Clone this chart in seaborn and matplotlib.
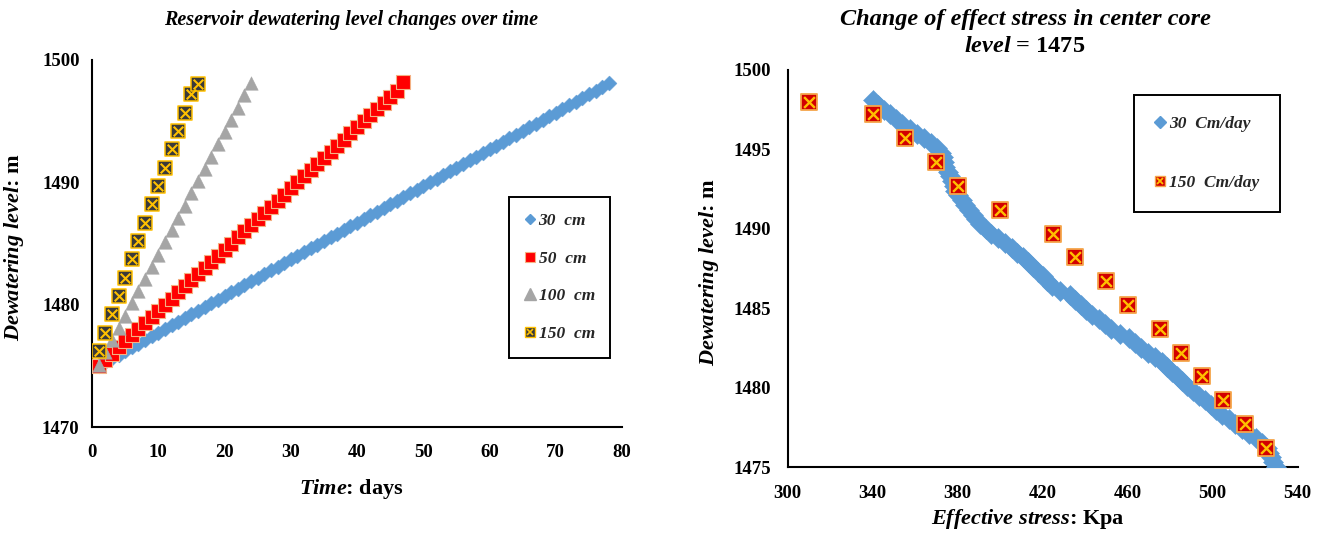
import matplotlib
matplotlib.use("Agg")
import matplotlib.pyplot as plt
from matplotlib.lines import Line2D
from matplotlib.legend_handler import HandlerTuple
from matplotlib.font_manager import FontProperties
import pandas as pd
import seaborn as sns

# ---------------- data ----------------
# Left panel: dewatering level (m) versus time (days) for four drawdown rates
days_30 = [1, 2, 3, 4, 5, 6, 7, 8, 9, 10, 11, 12, 13, 14, 15, 16, 17, 18, 19, 20,
           21, 22, 23, 24, 25, 26, 27, 28, 29, 30, 31, 32, 33, 34, 35, 36, 37, 38, 39, 40,
           41, 42, 43, 44, 45, 46, 47, 48, 49, 50, 51, 52, 53, 54, 55, 56, 57, 58, 59, 60,
           61, 62, 63, 64, 65, 66, 67, 68, 69, 70, 71, 72, 73, 74, 75, 76, 77, 78]
level_30 = [1475.0, 1475.3, 1475.6, 1475.9, 1476.2, 1476.5, 1476.8, 1477.1, 1477.4, 1477.7,
            1478.0, 1478.3, 1478.6, 1478.9, 1479.2, 1479.5, 1479.8, 1480.1, 1480.4, 1480.7,
            1481.0, 1481.3, 1481.6, 1481.9, 1482.2, 1482.5, 1482.8, 1483.1, 1483.4, 1483.7,
            1484.0, 1484.3, 1484.6, 1484.9, 1485.2, 1485.5, 1485.8, 1486.1, 1486.4, 1486.7,
            1487.0, 1487.3, 1487.6, 1487.9, 1488.2, 1488.5, 1488.8, 1489.1, 1489.4, 1489.7,
            1490.0, 1490.3, 1490.6, 1490.9, 1491.2, 1491.5, 1491.8, 1492.1, 1492.4, 1492.7,
            1493.0, 1493.3, 1493.6, 1493.9, 1494.2, 1494.5, 1494.8, 1495.1, 1495.4, 1495.7,
            1496.0, 1496.3, 1496.6, 1496.9, 1497.2, 1497.5, 1497.8, 1498.1]

days_50 = [1, 2, 3, 4, 5, 6, 7, 8, 9, 10, 11, 12, 13, 14, 15, 16, 17, 18, 19, 20,
           21, 22, 23, 24, 25, 26, 27, 28, 29, 30, 31, 32, 33, 34, 35, 36, 37, 38, 39, 40,
           41, 42, 43, 44, 45, 46, 47]
level_50 = [1475.0, 1475.5, 1476.0, 1476.5, 1477.0, 1477.5, 1478.0, 1478.5, 1479.0, 1479.5,
            1480.0, 1480.5, 1481.0, 1481.5, 1482.0, 1482.5, 1483.0, 1483.5, 1484.0, 1484.5,
            1485.0, 1485.5, 1486.0, 1486.5, 1487.0, 1487.5, 1488.0, 1488.5, 1489.0, 1489.5,
            1490.0, 1490.5, 1491.0, 1491.5, 1492.0, 1492.5, 1493.0, 1493.5, 1494.0, 1494.5,
            1495.0, 1495.5, 1496.0, 1496.5, 1497.0, 1497.5, 1498.2]

days_100 = [1, 2, 3, 4, 5, 6, 7, 8, 9, 10, 11, 12, 13, 14, 15, 16, 17, 18, 19, 20,
            21, 22, 23, 24]
level_100 = [1475.1, 1476.1, 1477.1, 1478.1, 1479.1, 1480.1, 1481.1, 1482.1, 1483.1, 1484.1,
             1485.1, 1486.1, 1487.1, 1488.1, 1489.1, 1490.1, 1491.1, 1492.1, 1493.1, 1494.1,
             1495.1, 1496.1, 1497.1, 1498.1]

days_150 = [1, 2, 3, 4, 5, 6, 7, 8, 9, 10, 11, 12, 13, 14, 15, 16]
level_150 = [1476.2, 1477.7, 1479.2, 1480.7, 1482.2, 1483.7, 1485.2, 1486.7, 1488.2, 1489.7,
             1491.2, 1492.7, 1494.2, 1495.7, 1497.2, 1498.0]

# Right panel: effective stress (Kpa) in the center core at level 1475
stress_30 = [530.0, 528.6, 527.5, 526.6, 525.6, 523.3, 520.2, 517.0, 513.9, 510.7,
             507.6, 504.4, 501.7, 499.0, 496.4, 493.7, 490.7, 487.8, 485.4, 483.1,
             480.7, 478.3, 476.0, 472.9, 469.5, 466.3, 463.4, 460.5, 456.4, 452.2,
             449.2, 446.3, 443.2, 440.6, 438.0, 435.4, 432.8, 428.0, 424.3, 422.2,
             420.0, 417.9, 415.6, 413.3, 410.7, 408.1, 405.5, 402.4, 399.0, 395.9,
             393.2, 390.5, 388.8, 387.1, 385.3, 383.6, 381.8, 380.1, 378.9, 378.1,
             377.2, 376.4, 375.2, 374.0, 373.5, 372.9, 372.3, 370.1, 367.2, 364.2,
             361.0, 357.5, 354.0, 350.9, 348.1, 345.3, 342.6, 340.2]
stress_150 = [525, 515, 505, 495, 485, 475, 460, 450, 435, 425,
              400, 380, 370, 355, 340, 310]

left_xticks = [0, 10, 20, 30, 40, 50, 60, 70, 80]
left_yticks = [1470, 1480, 1490, 1500]
right_xticks = [300, 340, 380, 420, 460, 500, 540]
right_yticks = [1475, 1480, 1485, 1490, 1495, 1500]

labels_left = ["30  cm", "50  cm", "100  cm", "150  cm"]
labels_right = ["30  Cm/day", "150  Cm/day"]

# ---------------- style ----------------
sns.set_theme(style="white")
plt.rcParams["font.family"] = ["Liberation Serif", "DejaVu Serif"]
plt.rcParams["mathtext.fontset"] = "custom"
plt.rcParams["mathtext.it"] = "Liberation Serif:italic:bold"
plt.rcParams["mathtext.rm"] = "Liberation Serif:bold"
plt.rcParams["mathtext.bf"] = "Liberation Serif:bold"

BLUE = "#5B9BD5"
RED = "#FF0000"
RED2 = "#D20000"
ORANGE = "#F4B183"
GRAY = "#A5A5A5"
DARK = "#3A3A3A"
GOLD = "#FFC000"

W, H = 1327, 534
fig = plt.figure(figsize=(W / 100, H / 100), dpi=100)
fig.patch.set_facecolor("white")
ax1 = fig.add_axes([92 / W, (H - 427) / H, 530 / W, 367 / H])
ax2 = fig.add_axes([787.7 / W, (H - 467) / H, 510 / W, 397 / H])

df30 = pd.DataFrame({"day": days_30, "level": level_30})
df50 = pd.DataFrame({"day": days_50, "level": level_50})
df100 = pd.DataFrame({"day": days_100, "level": level_100})
df150 = pd.DataFrame({"day": days_150, "level": level_150})

sns.scatterplot(data=df30, x="day", y="level", ax=ax1, marker="D", s=58,
                color=BLUE, edgecolor=BLUE, linewidth=0.3, legend=False, zorder=3)
sns.scatterplot(data=df50, x="day", y="level", ax=ax1, marker="s", s=88,
                color=RED, edgecolor=ORANGE, linewidth=0.8, legend=False, zorder=4)
sns.scatterplot(data=df100, x="day", y="level", ax=ax1, marker="^", s=95,
                color=GRAY, edgecolor=GRAY, linewidth=0.3, legend=False, zorder=5)
sns.scatterplot(data=df150, x="day", y="level", ax=ax1, marker="s", s=110,
                color=DARK, edgecolor=GOLD, linewidth=1.1, legend=False, zorder=6)
sns.scatterplot(data=df150, x="day", y="level", ax=ax1, marker="x", s=48,
                color=GOLD, linewidth=1.5, legend=False, zorder=7)

dfs30 = pd.DataFrame({"stress": stress_30, "level": level_30})
dfs150 = pd.DataFrame({"stress": stress_150, "level": level_150})
sns.scatterplot(data=dfs30, x="stress", y="level", ax=ax2, marker="D", s=105,
                color=BLUE, edgecolor=BLUE, linewidth=0.3, legend=False, zorder=3)
sns.scatterplot(data=dfs150, x="stress", y="level", ax=ax2, marker="s", s=125,
                color=RED2, edgecolor="#F5A54A", linewidth=1.3, legend=False, zorder=4)
sns.scatterplot(data=dfs150, x="stress", y="level", ax=ax2, marker="x", s=60,
                color=GOLD, linewidth=1.7, legend=False, zorder=5)

tick_font = dict(fontsize=13.5, fontweight="bold", family="Liberation Serif")

for ax, xt, yt in ((ax1, left_xticks, left_yticks), (ax2, right_xticks, right_yticks)):
    ax.set_xlim(xt[0], xt[-1])
    ax.set_ylim(yt[0], yt[-1])
    ax.set_xticks(xt)
    ax.set_yticks(yt)
    ax.set_xticklabels([str(v) for v in xt], **tick_font)
    ax.set_yticklabels([str(v) for v in yt], **tick_font)
    for side in ("top", "right"):
        ax.spines[side].set_visible(False)
    for side in ("left", "bottom"):
        ax.spines[side].set_color("black")
        ax.spines[side].set_linewidth(1.5)
    ax.tick_params(axis="both", which="both", length=3, width=1, color="black",
                   direction="out", colors="black")
    ax.set_facecolor("white")
    ax.grid(False)

ax1.tick_params(axis="x", pad=9)
ax1.tick_params(axis="y", pad=6)
ax2.tick_params(axis="x", pad=10)
ax2.tick_params(axis="y", pad=9)

label_font = dict(fontsize=16, fontweight="bold", color="black")
ax1.set_xlabel(r"$\mathit{Time}$: days", **label_font)
ax1.set_ylabel(r"$\mathit{Dewatering\ level}$: m", **label_font)
ax2.set_xlabel(r"$\mathit{Effective\ stress}$: Kpa", **label_font)
ax2.set_ylabel(r"$\mathit{Dewatering\ level}$: m", **label_font)
ax1.xaxis.set_label_coords(0.49, -0.135)
ax1.yaxis.set_label_coords(-0.125, 0.49)
ax2.xaxis.set_label_coords(0.471, -0.10)
ax2.yaxis.set_label_coords(-0.13, 0.49)

# titles
fig.text(351 / W, 1 - 20 / H, "Reservoir dewatering level changes over time",
         ha="center", va="center", fontsize=14.5, fontstyle="italic",
         fontweight="bold", color="black")
fig.text(1025 / W, 1 - 19 / H, "Change of effect stress in center core",
         ha="center", va="center", fontsize=17.5, fontstyle="italic",
         fontweight="bold", color="black")
fig.text(1025 / W, 1 - 46 / H, r"$\mathit{level}$ = 1475",
         ha="center", va="center", fontsize=17.5, fontweight="bold", color="black")

# legends
leg_font = FontProperties(family="Liberation Serif", style="italic", weight="bold", size=12.5)
tuple_handler = {tuple: HandlerTuple(ndivide=1, pad=0)}
h30 = Line2D([], [], ls="", marker="D", ms=5.5, color=BLUE)
h50 = Line2D([], [], ls="", marker="s", ms=7, mfc=RED, mec=ORANGE, mew=0.8)
h100 = Line2D([], [], ls="", marker="^", ms=8, color=GRAY)
h150 = (Line2D([], [], ls="", marker="s", ms=7, mfc=DARK, mec=GOLD, mew=1.0),
        Line2D([], [], ls="", marker="x", ms=4.5, color=GOLD, mew=1.2))
leg1 = ax1.legend([h30, h50, h100, h150], labels_left, loc="upper left",
                  bbox_to_anchor=(509 / W, 1 - 197 / H), bbox_transform=fig.transFigure,
                  frameon=True, fancybox=False, edgecolor="black", framealpha=1,
                  borderaxespad=0, handlelength=0.6, handletextpad=0.2,
                  labelspacing=1.25, borderpad=0.9, prop=leg_font,
                  handler_map=tuple_handler)
leg1.get_frame().set_linewidth(1.4)

r30 = Line2D([], [], ls="", marker="D", ms=6, color=BLUE)
r150 = (Line2D([], [], ls="", marker="s", ms=7.5, mfc=RED2, mec="#F5A54A", mew=1.0),
        Line2D([], [], ls="", marker="x", ms=5, color=GOLD, mew=1.3))
leg2 = ax2.legend([r30, r150], labels_right, loc="upper left",
                  bbox_to_anchor=(1134 / W, 1 - 95 / H), bbox_transform=fig.transFigure,
                  frameon=True, fancybox=False, edgecolor="black", framealpha=1,
                  borderaxespad=0, handlelength=0.6, handletextpad=0.2,
                  labelspacing=2.45, borderpad=1.2, prop=leg_font,
                  handler_map=tuple_handler)
leg2.get_frame().set_linewidth(1.4)

fig.savefig("out.png", dpi=100, facecolor="white")
